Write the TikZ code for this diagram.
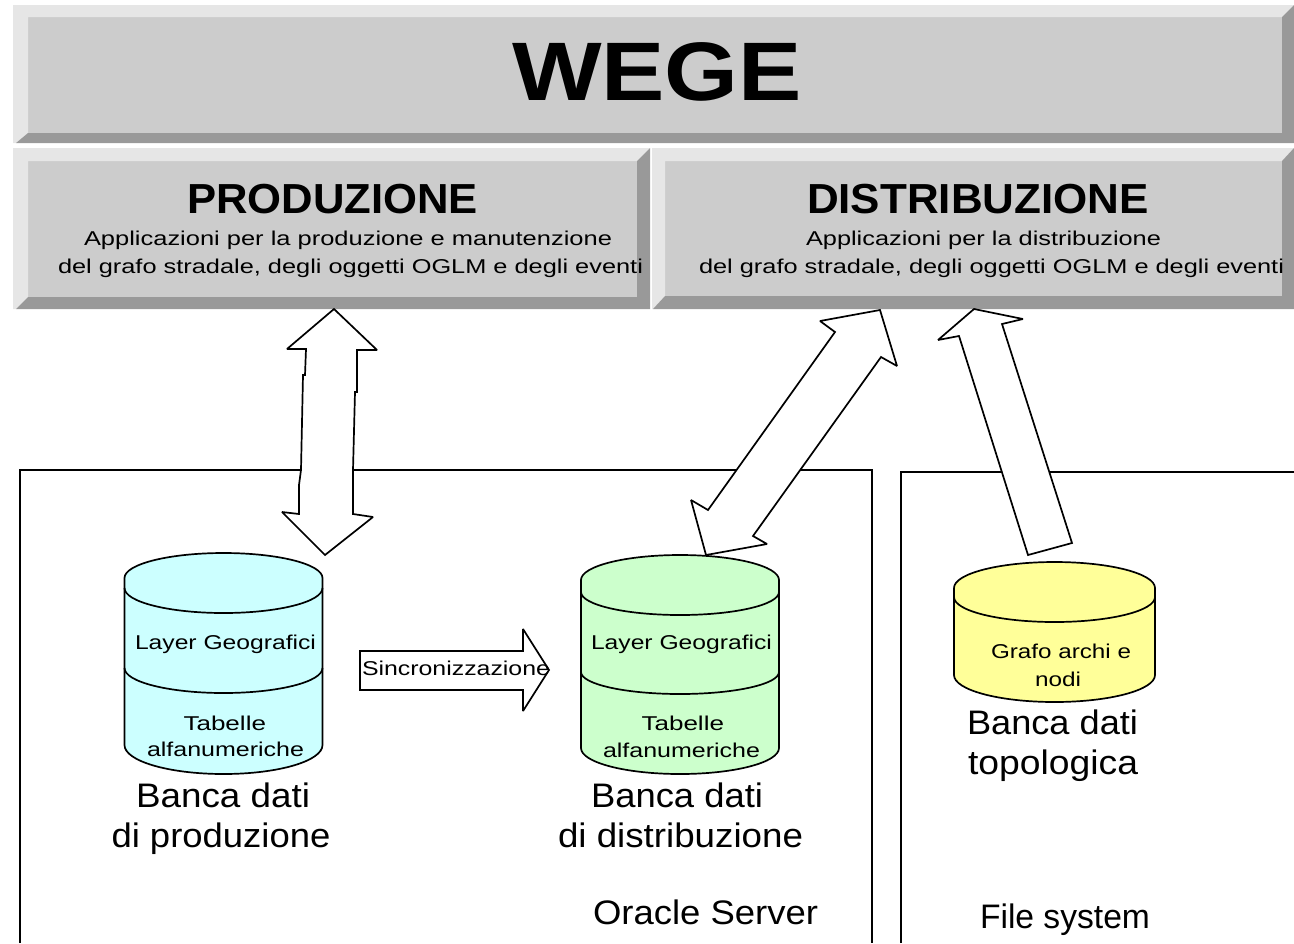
\documentclass[tikz,border=0pt]{standalone}
\usepackage{fontspec}
\usepackage{graphicx}
\setmainfont{Liberation Sans}
\definecolor{pbody}{HTML}{CCCCCC}
\definecolor{plight}{HTML}{E6E6E6}
\definecolor{pdark}{HTML}{999999}
\definecolor{dbcyan}{HTML}{CCFFFF}
\definecolor{dbgreen}{HTML}{CCFFCC}
\definecolor{dbyellow}{HTML}{FFFF99}
\tikzset{
  blockarrow/.style={draw=black,fill=white,line width=.85pt,line join=miter,miter limit=2},
  frameline/.style={draw=black,line width=.9pt},
  dbshape/.style={draw=black,line width=.85pt,line join=round},
  txt/.style={inner sep=0pt,outer sep=0pt,anchor=base west}
}
% name, x1, x2, baseline, size (px), text
\newcommand\lbl[6]{%
  \pgfmathsetmacro\tw{(#3-#2)*0.5}%
  \pgfmathsetmacro\fs{#5*0.5}%
  \node[txt] (#1) at (#2,#4) {\resizebox{\tw pt}{\height}{\fontsize{\fs pt}{\fs pt}\selectfont #6}};}
% bevelled panel: ol ot il it ir ib or ob blx (bottom-left outer x)
\newcommand\panel[9]{%
  \fill[pbody] (#3,#4) rectangle (#5,#6);
  \fill[plight] (#1,#2) -- (#7,#2) -- (#5,#4) -- (#3,#4) -- (#3,#6) -- (#9,#8) -- (#1,#8) -- cycle;
  \fill[pdark] (#9,#8) -- (#3,#6) -- (#5,#6) -- (#5,#4) -- (#7,#2) -- (#7,#8) -- cycle;
}
% half ellipse from (l,y) to (r,y), bulging by h
\newcommand\hell[4]{%
  .. controls ({#1},{#3+.5523*(#4)}) and ({(#1+#2)/2-.5523*(#2-#1)/2},{#3+#4}) .. ({(#1+#2)/2},{#3+#4})
  .. controls ({(#1+#2)/2+.5523*(#2-#1)/2},{#3+#4}) and ({#2},{#3+.5523*(#4)}) .. ({#2},{#3})}
% cylinder: fill l r top side sidebottom bottom lowstart lowbottom
\newcommand\cyl[9]{%
  \pgfmathsetmacro\hup{#4-#5}\pgfmathsetmacro\hdn{#7-#6}\pgfmathsetmacro\hlo{#9-#8}%
  \path[dbshape,fill=#1] (#2,#5) \hell{#2}{#3}{#5}{\hup} -- (#3,#6) \hell{#3}{#2}{#6}{\hdn} -- cycle;
  \draw[dbshape] (#2,#8) \hell{#2}{#3}{#8}{\hlo};
}
\begin{document}
\begin{tikzpicture}[x=.5pt,y=-.5pt]
\useasboundingbox (0,0) rectangle (1294,943);
% panels
\panel{13}{5}{28}{17}{1282}{133}{1294}{143}{16}
\panel{13}{148}{28}{161}{637}{297}{650}{309}{16}
\panel{652}{148}{665}{161}{1282}{296}{1294}{309}{653}
% containers
\coordinate (fa) at (20,943); \coordinate (fb) at (20,470); \coordinate (fc) at (872,470); \coordinate (fd) at (872,943);
\draw[frameline] (fa) -- (fb) -- (fc) -- (fd);
\coordinate (ga) at (901,943); \coordinate (gb) at (901,472); \coordinate (gc) at (1294,472);
\draw[frameline] (ga) -- (gb) -- (gc);
% databases
\cyl{dbcyan}{124.5}{322.5}{553}{578}{745}{774}{588}{613}
\draw[dbshape] (124.5,668) \hell{124.5}{322.5}{668}{25};
\cyl{dbgreen}{581}{779}{555}{580}{748}{774}{592}{615}
\draw[dbshape] (581,672) \hell{581}{779}{672}{22};
\cyl{dbyellow}{954}{1155}{562}{588}{675}{702}{597}{622}
% block arrows
\draw[blockarrow] (334,309) -- (287,349) -- (306,349) -- (305,375) -- (303,375) -- (301,470) -- (299,485) -- (299,514) -- (282,512) -- (325,555) -- (373,517) -- (353,514) -- (353,470) -- (355,392) -- (357,392) -- (357,350) -- (377,350) -- cycle;
\draw[blockarrow] (880,310) -- (820,321) -- (835,332) -- (708,510) -- (691,500) -- (706,555) -- (767,544) -- (753,536) -- (881,357) -- (897,366) -- cycle;
\draw[blockarrow] (974,309) -- (938,340) -- (959,336) -- (1028,555) -- (1072,543) -- (1002,324) -- (1023,319) -- cycle;
\draw[blockarrow] (360,651) -- (523,651) -- (523,629) -- (549,670) -- (523,711) -- (523,690) -- (360,690) -- cycle;
% texts
\lbl{wege}{512}{802}{100}{83}{\bfseries WEGE}
\lbl{prod}{187}{478}{213}{42}{\bfseries PRODUZIONE}
\lbl{prodA}{84}{612}{245}{20}{Applicazioni per la produzione e manutenzione}
\lbl{prodB}{58}{643}{273}{20}{del grafo stradale, degli oggetti OGLM e degli eventi}
\lbl{dist}{807}{1149}{213}{42}{\bfseries DISTRIBUZIONE}
\lbl{distA}{806}{1161}{245}{20}{Applicazioni per la distribuzione}
\lbl{distB}{699}{1284}{273}{20}{del grafo stradale, degli oggetti OGLM e degli eventi}
\lbl{layA}{135}{316}{649}{20}{Layer Geografici}
\lbl{tabA}{183.5}{266}{730}{20}{Tabelle}
\lbl{alfA}{147}{304}{756}{20}{alfanumeriche}
\lbl{layB}{591}{772}{649}{20}{Layer Geografici}
\lbl{tabB}{641.5}{724}{730}{20}{Tabelle}
\lbl{alfB}{603}{760}{757}{20}{alfanumeriche}
\lbl{sync}{362}{550}{675}{20}{Sincronizzazione}
\lbl{graf}{991}{1131}{658}{20}{Grafo archi e}
\lbl{nodi}{1035}{1081}{686}{20}{nodi}
\lbl{bdA}{136}{310}{807}{34}{Banca dati}
\lbl{bdAb}{111.5}{330.5}{847}{34}{di produzione}
\lbl{bdB}{591}{763}{807}{34}{Banca dati}
\lbl{bdBb}{558}{803}{847}{34}{di distribuzione}
\lbl{bdC}{967}{1138}{734}{34}{Banca dati}
\lbl{bdCb}{968}{1138}{774}{34}{topologica}
\lbl{orcl}{593}{818}{924}{34}{Oracle Server}
\lbl{fsys}{980}{1150}{928}{34}{File system}
\end{tikzpicture}
\end{document}
